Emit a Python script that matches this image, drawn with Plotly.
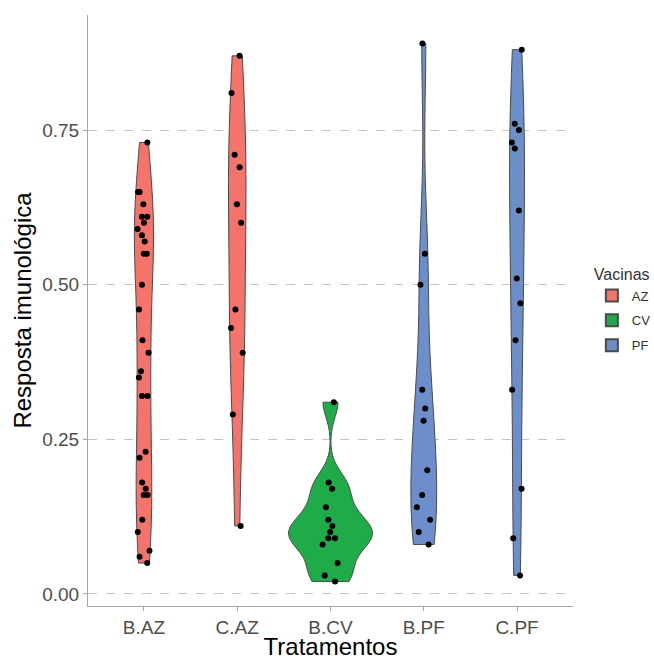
import numpy as np
import plotly.graph_objects as go

categories = ["B.AZ", "C.AZ", "B.CV", "B.PF", "C.PF"]
vacinas = ["AZ", "AZ", "CV", "PF", "PF"]

b_az = [0.73, 0.65, 0.65, 0.63, 0.61, 0.61, 0.60, 0.59, 0.58, 0.57, 0.55, 0.55,
        0.50, 0.46, 0.41, 0.39, 0.36, 0.35, 0.32, 0.32, 0.23, 0.22, 0.18, 0.17,
        0.16, 0.16, 0.12, 0.10, 0.07, 0.06, 0.05]
c_az = [0.87, 0.81, 0.71, 0.69, 0.63, 0.60, 0.46, 0.43, 0.39, 0.29, 0.11]
b_cv = [0.31, 0.18, 0.17, 0.14, 0.12, 0.11, 0.10, 0.09, 0.09, 0.08, 0.05, 0.03, 0.02]
b_pf = [0.89, 0.55, 0.50, 0.33, 0.30, 0.28, 0.20, 0.16, 0.14, 0.12, 0.10, 0.08]
c_pf = [0.88, 0.76, 0.75, 0.73, 0.72, 0.62, 0.51, 0.47, 0.41, 0.33, 0.17, 0.09, 0.03]

series = [b_az, c_az, b_cv, b_pf, c_pf]
colors = {"AZ": "#F4736B", "CV": "#1FAB48", "PF": "#6C8FCC"}
y_ticks = [0.0, 0.25, 0.50, 0.75]
y_ticktext = ["0.00", "0.25", "0.50", "0.75"]


def nrd0(v):
    v = np.asarray(v, dtype=float)
    sd = v.std(ddof=1)
    q75, q25 = np.percentile(v, [75, 25])
    lo = min(sd, (q75 - q25) / 1.34)
    if lo <= 0:
        lo = sd
    return 0.9 * lo * len(v) ** (-0.2)


def max_density(v, bw):
    v = np.asarray(v, dtype=float)
    grid = np.linspace(v.min(), v.max(), 512)
    z = (grid[:, None] - v[None, :]) / bw
    dens = np.exp(-0.5 * z ** 2).sum(axis=1) / (len(v) * bw * np.sqrt(2 * np.pi))
    return dens.max()


# ggplot-like "area" scaling: widths proportional to each violin's peak density
bws = [nrd0(s) for s in series]
peaks = [max_density(s, b) for s, b in zip(series, bws)]
global_peak = max(peaks)
widths = [0.9 * p / global_peak for p in peaks]

fig = go.Figure()
shown = set()
for cat, vac, vals, bw, w in zip(categories, vacinas, series, bws, widths):
    fig.add_trace(go.Violin(
        x=[cat] * len(vals),
        y=vals,
        name=vac,
        legendgroup=vac,
        showlegend=vac not in shown,
        fillcolor=colors[vac],
        line=dict(color="#4a4a4a", width=1),
        opacity=1,
        points="all",
        pointpos=0,
        jitter=min(1.0, 0.2 / w),
        marker=dict(color="black", size=6, line=dict(width=0)),
        spanmode="hard",
        bandwidth=bw,
        scalemode="width",
        width=w,
        box_visible=False,
        meanline_visible=False,
        hoveron="violins+points",
    ))
    shown.add(vac)

axis_col = "#a6a6a6"
fig.update_layout(
    width=654,
    height=660,
    margin=dict(l=88, r=81, t=15, b=54, autoexpand=False),
    paper_bgcolor="white",
    plot_bgcolor="white",
    violinmode="overlay",
    font=dict(family="Liberation Sans, Arial, sans-serif", color="#4d4d4d"),
    legend=dict(
        title=dict(text="Vacinas", font=dict(size=16, color="#333333")),
        font=dict(size=13, color="#333333"),
        xref="container", yref="container",
        x=0.905, xanchor="left", y=0.53, yanchor="middle",
        tracegroupgap=5, itemsizing="constant",
    ),
    xaxis=dict(
        type="category",
        categoryorder="array",
        categoryarray=categories,
        range=[-0.6, 4.6],
        automargin=False,
        showline=True, linecolor=axis_col, linewidth=1,
        ticks="outside", ticklen=4, tickcolor=axis_col,
        showgrid=False, zeroline=False,
        tickfont=dict(size=19, color="#4d4d4d"),
        title=dict(text="Tratamentos", font=dict(size=24, color="black"), standoff=7),
    ),
    yaxis=dict(
        range=[-0.0195, 0.936],
        automargin=False,
        tickvals=y_ticks, ticktext=y_ticktext,
        showline=True, linecolor=axis_col, linewidth=1,
        ticks="outside", ticklen=4, tickcolor=axis_col,
        showgrid=True, gridcolor="#c4c4c4", griddash="dash", gridwidth=1,
        zeroline=False,
        tickfont=dict(size=19, color="#4d4d4d"),
        title=dict(text="Resposta imunológica", font=dict(size=24, color="black"), standoff=3),
    ),
)

# remove the browser's default 8px body margin so the figure fills the window exactly
fig.write_html(
    "out.html",
    config={"displayModeBar": False},
    post_script="document.body.style.margin='0';document.body.style.overflow='hidden';",
)
